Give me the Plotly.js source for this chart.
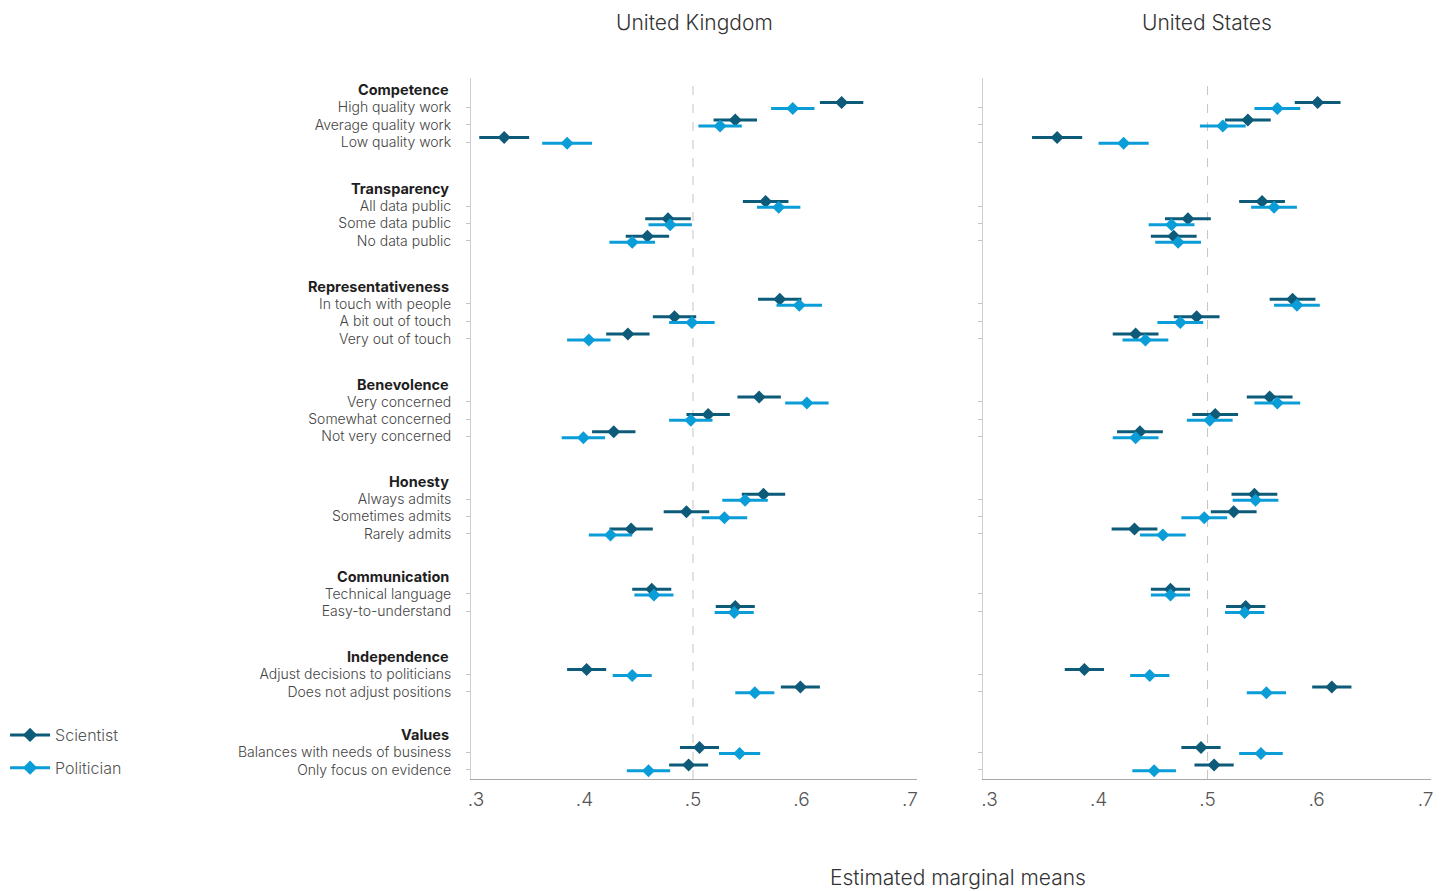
<!DOCTYPE html>
<html>
<head>
<meta charset="utf-8">
<script src="https://cdn.plot.ly/plotly-3.0.1.min.js"></script>
<style>html,body{margin:0;padding:0;background:#fff;}#chart{width:1449px;height:891px;}</style>
</head>
<body>
<div id="chart"></div>
<script>
const panelTitles = ['United Kingdom', 'United States'];
const seriesNames = ['Scientist', 'Politician'];
const groupNames = ['Competence','Transparency','Representativeness','Benevolence','Honesty','Communication','Independence','Values'];
const levelLabels = [
  'High quality work','Average quality work','Low quality work',
  'All data public','Some data public','No data public',
  'In touch with people','A bit out of touch','Very out of touch',
  'Very concerned','Somewhat concerned','Not very concerned',
  'Always admits','Sometimes admits','Rarely admits',
  'Technical language','Easy-to-understand',
  'Adjust decisions to politicians','Does not adjust positions',
  'Balances with needs of business','Only focus on evidence'
];
const levelGroup = [0,0,0, 1,1,1, 2,2,2, 3,3,3, 4,4,4, 5,5, 6,6, 7,7];
const xTickVals = [0.3, 0.4, 0.5, 0.6, 0.7];
const xTickText = ['.3', '.4', '.5', '.6', '.7'];
const xTitle = 'Estimated marginal means';

const ukScientist   = [0.637,0.539,0.326, 0.567,0.477,0.458, 0.580,0.483,0.440, 0.561,0.514,0.427, 0.565,0.494,0.443, 0.462,0.539, 0.402,0.599, 0.506,0.496];
const ukScientistCI = [0.020,0.020,0.023, 0.021,0.021,0.020, 0.020,0.020,0.020, 0.020,0.020,0.020, 0.020,0.021,0.020, 0.018,0.018, 0.018,0.018, 0.018,0.018];
const ukPolitician  = [0.592,0.525,0.384, 0.579,0.479,0.444, 0.598,0.499,0.404, 0.605,0.498,0.399, 0.548,0.529,0.424, 0.464,0.538, 0.444,0.557, 0.543,0.459];
const ukPoliticianCI= [0.020,0.020,0.023, 0.020,0.020,0.021, 0.021,0.021,0.020, 0.020,0.020,0.020, 0.021,0.021,0.020, 0.018,0.018, 0.018,0.018, 0.019,0.020];
const usScientist   = [0.601,0.537,0.362, 0.550,0.482,0.469, 0.578,0.490,0.434, 0.557,0.507,0.438, 0.543,0.524,0.433, 0.466,0.535, 0.387,0.614, 0.494,0.506];
const usScientistCI = [0.021,0.021,0.023, 0.021,0.021,0.021, 0.021,0.021,0.021, 0.021,0.021,0.021, 0.021,0.021,0.021, 0.018,0.018, 0.018,0.018, 0.018,0.018];
const usPolitician  = [0.564,0.514,0.423, 0.561,0.467,0.473, 0.582,0.475,0.443, 0.564,0.502,0.434, 0.544,0.497,0.459, 0.466,0.534, 0.447,0.554, 0.549,0.451];
const usPoliticianCI= [0.021,0.021,0.023, 0.021,0.021,0.021, 0.021,0.021,0.021, 0.021,0.021,0.021, 0.021,0.021,0.021, 0.018,0.018, 0.018,0.018, 0.020,0.020];

// ---- layout helpers (positions, styling) ----
const W = 1449, H = 891;
const GAPS = [3.68, 3.62, 3.62, 3.59, 3.45, 3.62, 3.48];   // row units between groups
const SCI_OFF = -0.27, POL_OFF = 0.07;
const colors = ['#0d5b79', '#0a9dd8'];
const FONT = 'Inter, Roboto, sans-serif';

const pos = [];
const groupFirst = [];
let p = 0, gi = 0;
levelLabels.forEach((l, i) => {
  if (i > 0) {
    if (levelGroup[i] !== levelGroup[i-1]) { p += GAPS[gi]; gi++; } else { p += 1; }
  }
  if (i === 0 || levelGroup[i] !== levelGroup[i-1]) groupFirst.push(p);
  pos.push(p);
});

const yRange = [38.60, -1.684];
const yDomain = [1 - 779/H, 1 - 78/H];

function mkTrace(xs, ci, k, xa, ya) {
  const off = k === 0 ? SCI_OFF : POL_OFF;
  return {
    type: 'scatter', mode: 'markers', xaxis: xa, yaxis: ya,
    x: xs, y: pos.map(v => v + off), showlegend: false, name: seriesNames[k],
    marker: {symbol: 'diamond', size: 10, color: colors[k]},
    error_x: {type: 'data', array: ci, visible: true, color: colors[k], thickness: 3, width: 0},
    hoverinfo: 'x+name'
  };
}

const traces = [
  mkTrace(ukScientist, ukScientistCI, 0, 'x', 'y'),
  mkTrace(ukPolitician, ukPoliticianCI, 1, 'x', 'y'),
  mkTrace(usScientist, usScientistCI, 0, 'x2', 'y2'),
  mkTrace(usPolitician, usPoliticianCI, 1, 'x2', 'y2'),
];
seriesNames.forEach((n, k) => {
  traces.push({type: 'scatter', mode: 'lines+markers', x: [null], y: [null], name: n,
    legendgroup: 'g' + k, showlegend: true,
    line: {color: colors[k], width: 3}, marker: {symbol: 'diamond', size: 11, color: colors[k]}});
});

function xAxis(domain, range, anchor) {
  return {domain: domain, range: range, anchor: anchor, tickvals: xTickVals, ticktext: xTickText,
    ticks: '', showline: true, linecolor: '#a8a8a8', linewidth: 1, showgrid: false, zeroline: false,
    ticklabelstandoff: 3,
    tickfont: {family: FONT, size: 19, color: '#555', weight: 300}, fixedrange: true};
}
function yAxis(anchor, showLabels) {
  return {domain: yDomain, range: yRange, anchor: anchor, tickvals: pos, ticktext: levelLabels,
    showticklabels: showLabels, ticks: 'outside', ticklen: 4, tickcolor: '#c4c4c4', tickwidth: 1,
    showline: true, linecolor: '#cfcfcf', linewidth: 1, showgrid: false, zeroline: false,
    ticklabelstandoff: 12,
    tickfont: {family: FONT, size: 14, color: '#444', weight: 300}, fixedrange: true};
}

const annotations = [];
groupNames.forEach((g, i) => {
  annotations.push({xref: 'paper', yref: 'y', x: 451/W, y: groupFirst[i] - 1, xanchor: 'right', yanchor: 'middle',
    text: '<b>' + g + '</b>', showarrow: false, font: {family: FONT, size: 14.5, color: '#1e1e1e'}});
});
annotations.push({xref: 'x domain', yref: 'paper', x: 0.5, y: 1 - 22/H, xanchor: 'center', yanchor: 'middle',
  text: panelTitles[0], showarrow: false, font: {family: FONT, size: 21, color: '#333', weight: 300}});
annotations.push({xref: 'x2 domain', yref: 'paper', x: 0.5, y: 1 - 22/H, xanchor: 'center', yanchor: 'middle',
  text: panelTitles[1], showarrow: false, font: {family: FONT, size: 21, color: '#333', weight: 300}});
annotations.push({xref: 'paper', yref: 'paper', x: 958/W, y: 1 - 877/H, xanchor: 'center', yanchor: 'middle',
  text: xTitle, showarrow: false, font: {family: FONT, size: 21, color: '#333', weight: 300}});

const shapes = ['x', 'x2'].map(xa => ({type: 'line', xref: xa, yref: (xa === 'x' ? 'y' : 'y2') + ' domain',
  x0: 0.5, x1: 0.5, y0: 0, y1: 1, line: {color: '#c4c4c4', width: 1, dash: 'dash'}, layer: 'below'}));

const layout = {
  width: W, height: H, margin: {l: 0, r: 0, t: 0, b: 0, autoexpand: false},
  paper_bgcolor: '#fff', plot_bgcolor: '#fff',
  font: {family: FONT, color: '#444'},
  xaxis: xAxis([471/W, 917/W], [0.2954, 0.7065], 'y'),
  yaxis: yAxis('x', true),
  xaxis2: xAxis([983/W, 1431/W], [0.294, 0.705], 'y2'),
  yaxis2: yAxis('x2', false),
  showlegend: true,
  legend: {x: 0.0035, xanchor: 'left', y: 1 - 718/H, yanchor: 'top', tracegroupgap: 9, itemwidth: 40,
    font: {family: FONT, size: 16, color: '#555', weight: 300}, bgcolor: 'rgba(0,0,0,0)'},
  annotations: annotations,
  shapes: shapes,
  hovermode: 'closest'
};

Plotly.newPlot('chart', traces, layout, {displayModeBar: false});
</script>
</body>
</html>
